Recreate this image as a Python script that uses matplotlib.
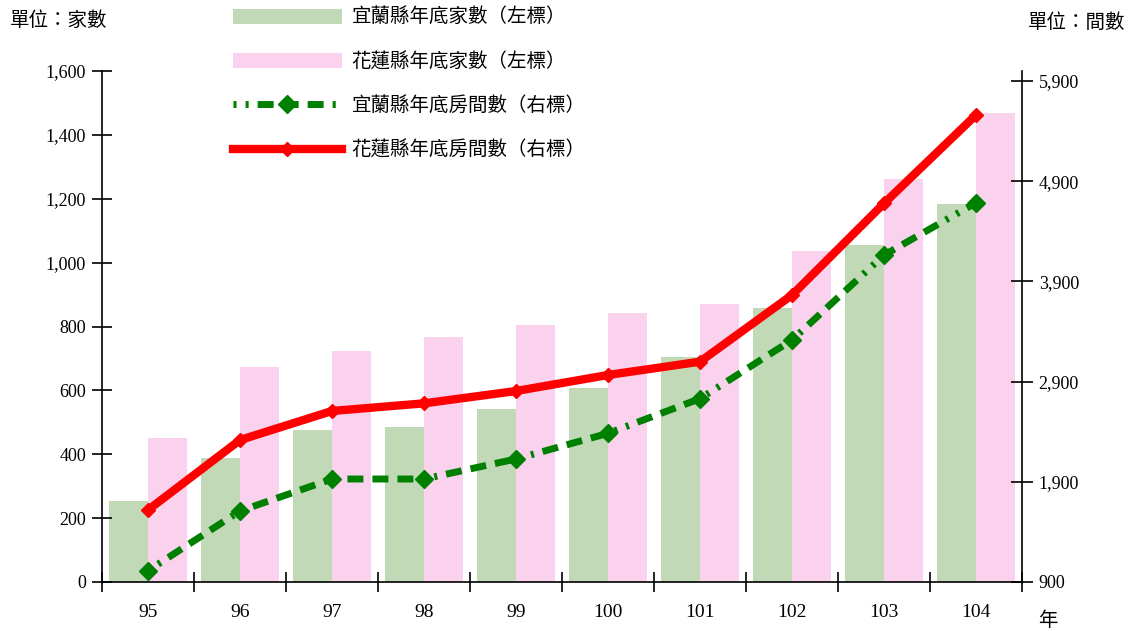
import matplotlib
matplotlib.use("Agg")
import matplotlib.pyplot as plt
from matplotlib.patches import Patch
from matplotlib.lines import Line2D
import numpy as np

plt.rcParams['font.family'] = ['Noto Sans CJK TC', 'DejaVu Sans']
plt.rcParams['lines.scale_dashes'] = False

years = ['95', '96', '97', '98', '99', '100', '101', '102', '103', '104']
yilan_firms = [253, 389, 475, 484, 541, 609, 703, 857, 1055, 1182]
hualien_firms = [452, 673, 724, 767, 805, 841, 872, 1036, 1261, 1470]
yilan_rooms = [1013, 1609, 1928, 1928, 2128, 2384, 2730, 3315, 4163, 4685]
hualien_rooms = [1619, 2317, 2607, 2683, 2806, 2966, 3099, 3764, 4679, 5561]

left_ticks = [0, 200, 400, 600, 800, 1000, 1200, 1400, 1600]
right_ticks = [900, 1900, 2900, 3900, 4900, 5900]

lab_yb = '宜蘭縣年底家數（左標）'
lab_hb = '花蓮縣年底家數（左標）'
lab_yl = '宜蘭縣年底房間數（右標）'
lab_hl = '花蓮縣年底房間數（右標）'

c_gbar = '#C2D9B7'
c_pbar = '#FAD2EE'
c_gline = '#008000'
c_rline = '#FF0000'

fig = plt.figure(figsize=(11.29, 6.31), dpi=100)
ax = fig.add_axes([102/1129, 1-582/631, (1022-102)/1129, (582-71)/631])
ax2 = ax.twinx()

x = np.arange(len(years))
w = 0.42
ax.bar(x - w/2, yilan_firms, width=w, color=c_gbar, zorder=1)
ax.bar(x + w/2, hualien_firms, width=w, color=c_pbar, zorder=1)

dash = (2.2, 6.5, 2.2, 6.5, 11.5, 6.5, 11.5, 6.5, 11.5, 6.5)
lg, = ax2.plot(x, yilan_rooms, color=c_gline, lw=5, marker='D', ms=9,
               mec=c_gline, dash_capstyle='butt', zorder=3)
lg.set_dashes(dash)
ax2.plot(x, hualien_rooms, color=c_rline, lw=6, marker='D', ms=7,
         mec=c_rline, zorder=4)

ax.set_xlim(-0.5, len(years) - 0.5)
ax.set_ylim(0, 1600)
ax2.set_ylim(900, 6000)

ax.set_yticks(left_ticks)
ax.set_yticklabels([f'{v:,}' for v in left_ticks])
ax2.set_yticks(right_ticks)
ax2.set_yticklabels([f'{v:,}' for v in right_ticks])

ax.set_xticks(np.arange(len(years) + 1) - 0.5)
ax.set_xticklabels([])
ax.set_xticks(x, minor=True)
ax.set_xticklabels(years, minor=True)
ax.tick_params(axis='x', which='minor', length=0, pad=16, labelsize=14)
ax.tick_params(axis='x', which='major', direction='inout', length=15, width=1.2)
ax.tick_params(axis='y', direction='inout', length=15, width=1.2, labelsize=13, pad=4)
ax2.tick_params(axis='y', direction='inout', length=16, width=1.2, labelsize=13, pad=4)
for lab in ax.get_xticklabels(minor=True) + ax.get_yticklabels() + ax2.get_yticklabels():
    lab.set_family('Liberation Serif')

for a in (ax, ax2):
    a.spines['top'].set_visible(False)
    for s in ('left', 'right', 'bottom'):
        a.spines[s].set_linewidth(1.2)
ax.spines['right'].set_visible(False)
ax2.spines['left'].set_visible(False)
ax2.spines['bottom'].set_visible(False)
ax.set_zorder(ax2.get_zorder() - 1)
ax2.patch.set_visible(False)
ax.patch.set_visible(True)

handles = [
    Patch(facecolor=c_gbar, edgecolor='none'),
    Patch(facecolor=c_pbar, edgecolor='none'),
    Line2D([], [], color=c_gline, lw=5, marker='D', ms=9, dashes=dash, dash_capstyle='butt'),
    Line2D([], [], color=c_rline, lw=6, marker='D', ms=7),
]
fig.legend(handles, [lab_yb, lab_hb, lab_yl, lab_hl], loc='upper left',
           bbox_to_anchor=(233/1129, 1-7/631), frameon=False, fontsize=14,
           handlelength=5.6, handleheight=0.85, handletextpad=0.5,
           labelspacing=1.2, borderpad=0, borderaxespad=0)

fig.text(10/1129, 1-20/631, '單位：家數', fontsize=14, va='center', ha='left')
fig.text(1125/1129, 1-22/631, '單位：間數', fontsize=14, va='center', ha='right')
fig.text(1048/1129, 1-621/631, '年', fontsize=14, va='center', ha='center')

fig.savefig('out.png', dpi=100)
